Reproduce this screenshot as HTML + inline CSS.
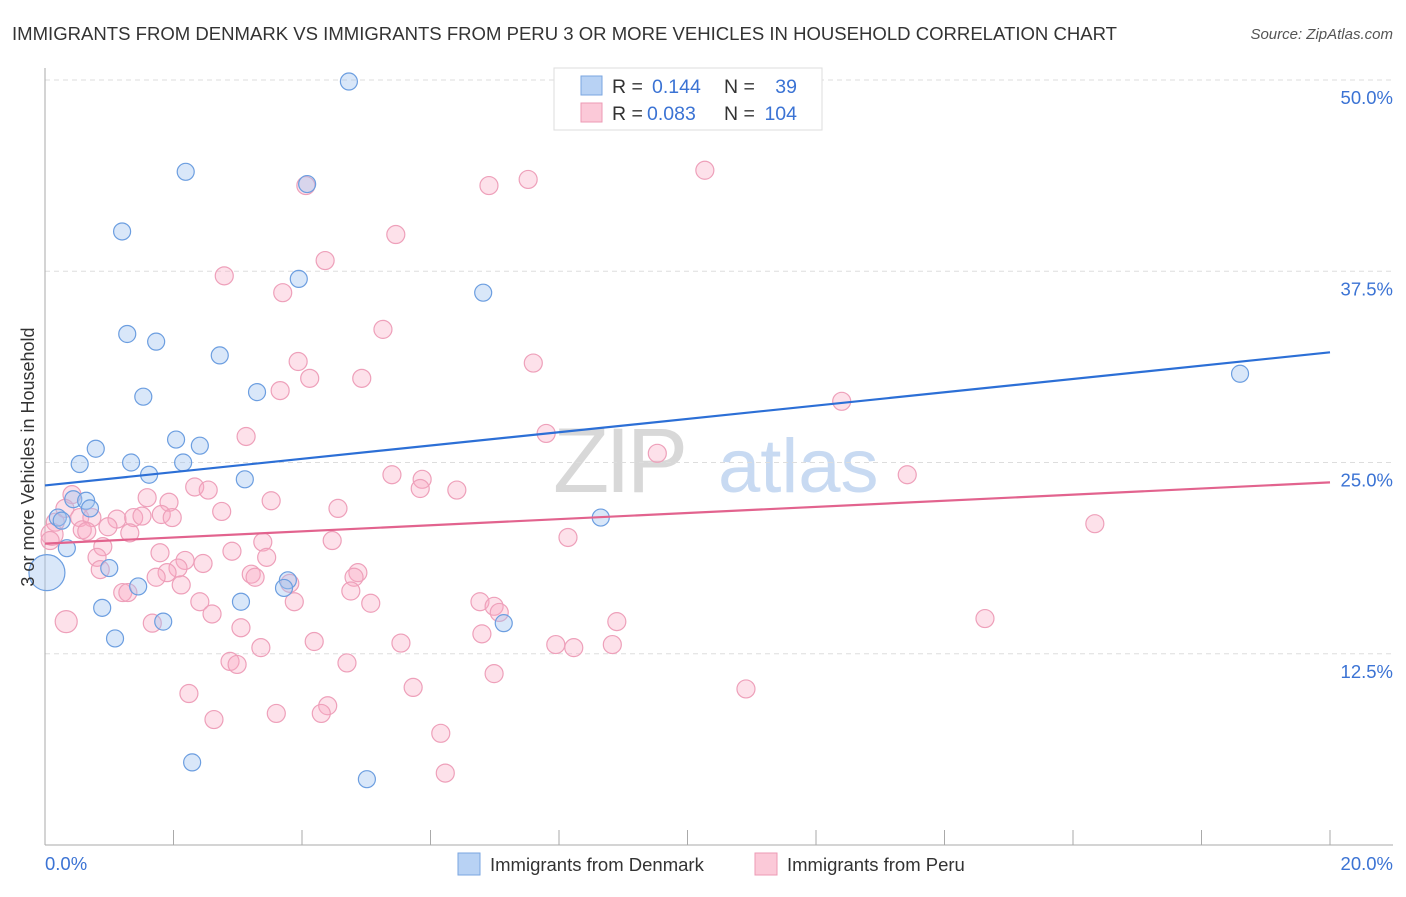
<!DOCTYPE html>
<html><head><meta charset="utf-8"><style>
body{margin:0;background:#fff;font-family:"Liberation Sans",sans-serif;}
svg text{font-family:"Liberation Sans",sans-serif;}
</style></head><body>
<svg id="chart" width="1406" height="892" xmlns="http://www.w3.org/2000/svg">
<text x="12" y="40" font-size="18" fill="#333" textLength="1105" lengthAdjust="spacingAndGlyphs">IMMIGRANTS FROM DENMARK VS IMMIGRANTS FROM PERU 3 OR MORE VEHICLES IN HOUSEHOLD CORRELATION CHART</text>
<text x="1393" y="39" font-size="15" fill="#555" font-style="italic" text-anchor="end">Source: ZipAtlas.com</text>
<g>
<text x="553" y="492" font-size="92" fill="#d8d8d8" font-family="Liberation Serif" letter-spacing="-4">ZIP</text>
<text x="718" y="492" font-size="76" fill="#c8daf2">atlas</text>
</g>
<g id="grid"></g>
<g id="axes"></g>
<g id="marks"></g>
<g id="trends"></g>
<text transform="translate(34,457) rotate(-90)" font-size="18" fill="#333" text-anchor="middle">3 or more Vehicles in Household</text>
<g>
<rect x="554" y="68" width="268" height="62" fill="#fff" stroke="#ddd"/>
<rect x="581" y="76" width="21" height="19" fill="#b8d2f4" stroke="#7aa6e0"/>
<rect x="581" y="103" width="21" height="19" fill="#fbc9d8" stroke="#ec9ab4"/>
<text x="612" y="93" font-size="19.5" fill="#333">R =</text>
<text x="652" y="93" font-size="19.5" fill="#3b73d4">0.144</text>
<text x="724" y="93" font-size="19.5" fill="#333">N =</text>
<text x="797" y="93" font-size="19.5" fill="#3b73d4" text-anchor="end">39</text>
<text x="612" y="120" font-size="19.5" fill="#333">R =</text>
<text x="647" y="120" font-size="19.5" fill="#3b73d4">0.083</text>
<text x="724" y="120" font-size="19.5" fill="#333">N =</text>
<text x="797" y="120" font-size="19.5" fill="#3b73d4" text-anchor="end">104</text>
</g>
<g>
<rect x="458" y="853" width="22" height="22" fill="#b8d2f4" stroke="#7aa6e0"/>
<text x="490" y="871" font-size="18.5" fill="#333">Immigrants from Denmark</text>
<rect x="755" y="853" width="22" height="22" fill="#fbc9d8" stroke="#ec9ab4"/>
<text x="787" y="871" font-size="18.5" fill="#333">Immigrants from Peru</text>
</g>
</svg>
<script>
const yTicks=[12.5,25,37.5,50];
const yTickLabels=["12.5%","25.0%","37.5%","50.0%"];
const xTickCount=11;
const denX=[4.73,2.19,4.08,1.20,3.95,6.82,1.28,1.73,2.72,3.30,1.53,18.6,2.04,2.41,0.79,1.34,2.15,0.54,1.62,3.11,0.44,0.64,0.70,0.20,0.26,8.65,0.34,1.0,0.03,1.45,3.78,3.72,0.89,3.05,1.84,7.14,1.09,2.29,5.01];
const denY=[49.9,44.0,43.2,40.1,37.0,36.1,33.4,32.9,32.0,29.6,29.3,30.8,26.5,26.1,25.9,25.0,25.0,24.9,24.2,23.9,22.6,22.5,22.0,21.4,21.2,21.4,19.4,18.1,17.8,16.9,17.3,16.8,15.5,15.9,14.6,14.5,13.5,5.4,4.3];
const denBig=[28];
const peruX=[10.27,6.91,7.52,4.06,5.46,2.79,4.36,3.70,5.26,3.94,7.60,4.12,4.93,3.66,12.40,3.13,7.80,9.53,13.42,5.40,5.87,5.84,6.41,2.33,2.54,0.42,1.59,1.93,3.52,4.56,2.75,0.31,0.54,0.73,1.12,1.38,1.51,1.81,1.98,0.16,0.98,1.32,0.58,0.65,16.34,0.11,0.08,3.39,4.47,8.14,0.90,1.79,2.91,3.45,0.81,2.18,2.46,0.86,2.07,1.90,1.73,3.21,3.27,4.87,4.81,2.12,3.81,4.76,1.21,1.29,2.41,3.88,5.07,6.77,6.99,7.07,2.60,0.33,1.67,8.90,14.63,3.05,6.80,4.19,5.54,7.95,8.23,8.83,3.36,2.88,2.99,4.70,6.99,2.24,5.73,10.91,4.40,4.30,3.60,2.63,6.16,6.23];
const peruY=[44.1,43.1,43.5,43.1,39.9,37.2,38.2,36.1,33.7,31.6,31.5,30.5,30.5,29.7,29.0,26.7,26.9,25.6,24.2,24.2,23.9,23.3,23.2,23.4,23.2,22.9,22.7,22.4,22.5,22.0,21.8,22.0,21.4,21.4,21.3,21.4,21.5,21.6,21.4,21.1,20.8,20.4,20.6,20.5,21.0,20.3,19.9,19.8,19.9,20.1,19.5,19.1,19.2,18.8,18.8,18.6,18.4,18.0,18.1,17.8,17.5,17.7,17.5,17.8,17.5,17.0,17.1,16.6,16.5,16.5,15.9,15.9,15.8,15.9,15.6,15.2,15.1,14.6,14.5,14.6,14.8,14.2,13.8,13.3,13.2,13.1,12.9,13.1,12.9,12.0,11.8,11.9,11.2,9.9,10.3,10.2,9.1,8.6,8.6,8.2,7.3,4.7];
const peruBig=[45,77];
const denTrend=[23.5,32.2];
const peruTrend=[19.7,23.7];

const NS="http://www.w3.org/2000/svg";
const X=v=>45+v/20*1285;
const Y=v=>845-v/50*765;
function mk(tag,attrs,parent){const e=document.createElementNS(NS,tag);for(const k in attrs)e.setAttribute(k,attrs[k]);document.getElementById(parent).appendChild(e);return e;}
yTicks.forEach((t,i)=>{
  const g=mk('line',{x1:45,x2:1393,y1:Y(t),y2:Y(t),stroke:'#ddd','stroke-dasharray':'5,4'},'grid');
  
  
  const l=mk('text',{x:1393,y:Y(t)+24,'font-size':18.5,fill:'#3b73d4','text-anchor':'end'},'axes');
  l.textContent=yTickLabels[i];
  
  
});
const ya=mk('line',{x1:45,x2:45,y1:68,y2:845,stroke:'#aaa'},'axes');


const xa=mk('line',{x1:45,x2:1393,y1:845,y2:845,stroke:'#aaa'},'axes');


for(let i=0;i<xTickCount;i++){
  const t=mk('line',{x1:X(i*2),x2:X(i*2),y1:830,y2:845,stroke:'#aaa'},'axes');
  
  
}
const x0=mk('text',{x:45,y:870,'font-size':18.5,fill:'#3b73d4'},'axes');x0.textContent='0.0%';


const x1=mk('text',{x:1393,y:870,'font-size':18.5,fill:'#3b73d4','text-anchor':'end'},'axes');x1.textContent='20.0%';


peruX.forEach((v,i)=>{
  const c=mk('circle',{cx:X(v),cy:Y(peruY[i]),r:peruBig.includes(i)?11:9,fill:'rgba(248,170,196,0.35)',stroke:'#eea0ba','stroke-width':1.2},'marks');
  
  
});
denX.forEach((v,i)=>{
  const c=mk('circle',{cx:X(v),cy:Y(denY[i]),r:denBig.includes(i)?18:8.5,fill:'rgba(160,196,240,0.4)',stroke:'#6c9ee0','stroke-width':1.2},'marks');
  
  
});
const bt=mk('line',{x1:X(0),x2:X(20),y1:Y(denTrend[0]),y2:Y(denTrend[1]),stroke:'#2c6fd6','stroke-width':2.2},'trends');


const pt=mk('line',{x1:X(0),x2:X(20),y1:Y(peruTrend[0]),y2:Y(peruTrend[1]),stroke:'#e2638e','stroke-width':2.2},'trends');


</script>
</body></html>
